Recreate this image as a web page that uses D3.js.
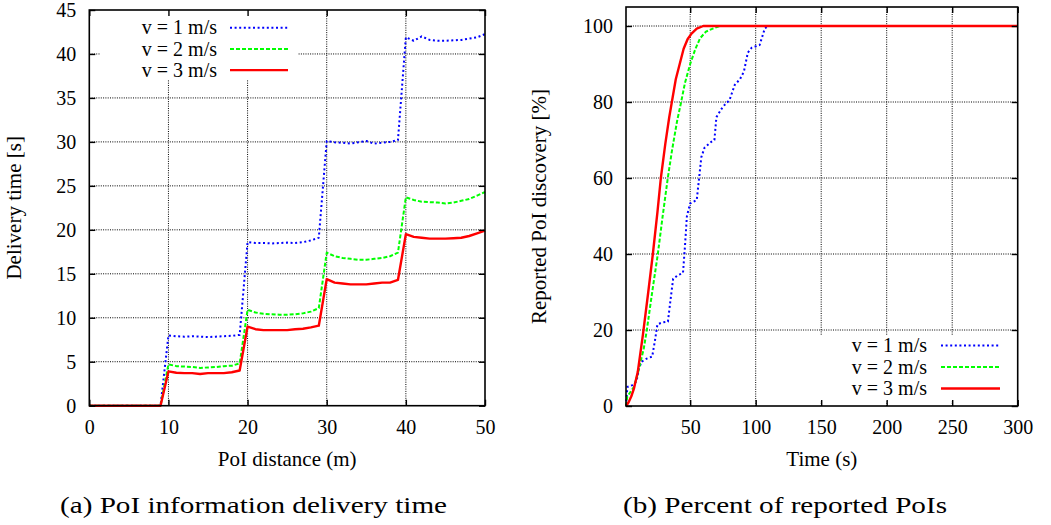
<!DOCTYPE html>
<html><head><meta charset="utf-8">
<script src="https://cdn.jsdelivr.net/npm/d3@7"></script>
<style>
body{margin:0;background:#fff}
svg text{font-family:'Liberation Serif','DejaVu Serif',serif !important;fill:#000}
</style></head><body>
<svg id="c" width="1051" height="525"></svg>
<script>
// ---------- data: chart (a) ----------
const distance = [0,1,2,3,4,5,6,7,8,9,10,11,12,13,14,15,16,17,18,19,20,21,22,23,24,25,26,27,28,29,30,31,32,33,34,35,36,37,38,39,40,41,42,43,44,45,46,47,48,49,50];
const delayV1 = [0,0,0,0,0,0,0,0,0,0,
  8.0,7.9,7.85,7.9,7.85,7.8,7.85,7.9,7.95,8.05,
  18.6,18.5,18.5,18.45,18.5,18.55,18.5,18.6,18.8,19.1,
  30.1,29.95,29.9,29.8,29.95,30.1,29.8,29.9,30.0,30.2,
  41.9,41.5,42.0,41.6,41.5,41.5,41.55,41.6,41.75,41.9,42.25];
const delayV2 = [0,0,0,0,0,0,0,0,0,0,
  4.7,4.5,4.45,4.4,4.3,4.35,4.4,4.5,4.55,4.8,
  10.9,10.6,10.45,10.4,10.35,10.35,10.4,10.5,10.7,11.1,
  17.4,17.0,16.8,16.7,16.6,16.6,16.7,16.8,17.0,17.4,
  23.7,23.4,23.2,23.15,23.1,23.0,23.1,23.3,23.5,23.9,24.3];
const delayV3 = [0,0,0,0,0,0,0,0,0,0,
  3.9,3.75,3.7,3.7,3.6,3.7,3.7,3.7,3.8,4.0,
  9.0,8.7,8.6,8.6,8.6,8.6,8.7,8.75,8.9,9.1,
  14.4,14.0,13.9,13.8,13.8,13.8,13.9,14.0,14.0,14.3,
  19.5,19.2,19.1,19.0,19.0,19.0,19.05,19.1,19.3,19.6,19.9];
const xTicksA = [0,10,20,30,40,50];
const yTicksA = [0,5,10,15,20,25,30,35,40,45];

// ---------- data: chart (b) [time s, percent] ----------
const reportedV1 = [[1,0],[2,5],[6,5.5],[9,6.5],[11,10],[13,11.7],[17,12.5],[21,13],[23,17],[25,21.5],[29,22],[33,22.2],[35,28],[37,33.5],[41,34.5],[44.5,35],[46,42],[47.5,50],[50,53.3],[55,54.2],[56.5,59],[58.5,65.5],[61,68],[66,69.5],[68.5,70],[70,76],[75,78.8],[80,80.5],[84,84.5],[88,86],[91,88],[94,93],[97,94.3],[103,95],[107,99.4],[110,100],[300,100]];
const reportedV2 = [[1,0],[2,2.5],[4,3.5],[7,5],[10,8.5],[12,11.5],[14.5,15],[16.9,20],[21,30],[25.3,40],[29,50],[32.9,60],[36,67],[40,75],[43.1,80],[46,85],[50,90],[54,94],[57.6,96.8],[62,98.5],[67.8,99.4],[73,100],[300,100]];
const reportedV3 = [[1,0],[3,1],[5,2.5],[7,4.5],[10,9],[14,19],[18,30],[21.5,40],[25,51],[27.6,60],[31,69],[34,76],[36,80],[39,86],[42,90],[45,94],[48,96.5],[51,98],[55,99.3],[60,100],[300,100]];
const xTicksB = [50,100,150,200,250,300];
const yTicksB = [0,20,40,60,80,100];

const seriesNames = ["v = 1 m/s","v = 2 m/s","v = 3 m/s"];
const colors = ["#0000ff","#00ff00","#ff0000"];
const dashes = ["2,2.6","4,2",null];
const widths = [2,2,2.4];
const FONT = "'Liberation Serif','DejaVu Serif',serif";

const svg = d3.select("#c");

function panel(cfg){
  const {x, y, xTicks, yTicks, series, legend, xTitle, yTitle, yTitleX, caption, capW} = cfg;
  const [x0,x1] = x.range(), [y0,y1] = y.range();
  const g = svg.append("g");
  // grid
  const grid = g.append("g").attr("stroke","#000").attr("stroke-width",1).attr("stroke-dasharray","1,1.3");
  grid.selectAll("line.v").data(xTicks.filter(t=>t>x.domain()[0] && t<x.domain()[1])).join("line")
    .attr("x1",d=>x(d)).attr("x2",d=>x(d)).attr("y1",y0).attr("y2",y1);
  grid.selectAll("line.h").data(yTicks.filter(t=>t>y.domain()[0] && t<y.domain()[1])).join("line")
    .attr("x1",x0).attr("x2",x1).attr("y1",d=>y(d)).attr("y2",d=>y(d));
  // legend background
  g.append("rect").attr("x",legend.box[0]).attr("y",legend.box[1]).attr("width",legend.box[2]).attr("height",legend.box[3]).attr("fill","#fff");
  // lines
  const line = d3.line().x(d=>x(d[0])).y(d=>y(d[1]));
  series.forEach((s,i)=>{
    g.append("path").attr("d",line(s)).attr("fill","none").attr("stroke",colors[i])
      .attr("stroke-width",widths[i]).attr("stroke-dasharray",dashes[i]).attr("stroke-linejoin","round");
  });
  // border
  g.append("rect").attr("x",x0).attr("y",y1).attr("width",x1-x0).attr("height",y0-y1)
    .attr("fill","none").attr("stroke","#000").attr("stroke-width",1.6);
  // axes with inward ticks
  const ax = g.append("g").attr("transform",`translate(0,${y0})`)
    .call(d3.axisBottom(x).tickValues(xTicks).tickSize(-6).tickPadding(14));
  const axT = g.append("g").attr("transform",`translate(0,${y1})`)
    .call(d3.axisTop(x).tickValues(xTicks).tickSize(-6).tickFormat(""));
  const ay = g.append("g").attr("transform",`translate(${x0},0)`)
    .call(d3.axisLeft(y).tickValues(yTicks).tickSize(-6).tickPadding(13));
  const ayR = g.append("g").attr("transform",`translate(${x1},0)`)
    .call(d3.axisRight(y).tickValues(yTicks).tickSize(-6).tickFormat(""));
  [ax,axT,ay,ayR].forEach(a=>{
    a.attr("font-family",FONT).attr("font-size",20);
    a.select(".domain").remove();
    a.selectAll("line").attr("stroke","#000").attr("stroke-width",1.4);
    a.selectAll("text").attr("font-family",FONT).attr("font-size",20).attr("fill","#000");
  });
  ax.selectAll("text").attr("dy","0.71em").attr("y",14);
  // legend
  const lg = g.append("g").attr("font-family",FONT);
  seriesNames.forEach((n,i)=>{
    const ly = legend.y0 + i*legend.dy;
    lg.append("text").attr("x",legend.tx).attr("y",ly).attr("dy","0.33em").attr("text-anchor","end").attr("font-size",20).text(n);
    lg.append("line").attr("x1",legend.lx0).attr("x2",legend.lx1).attr("y1",ly).attr("y2",ly)
      .attr("stroke",colors[i]).attr("stroke-width",widths[i]).attr("stroke-dasharray",dashes[i]);
  });
  // titles
  g.append("text").attr("font-family",FONT).attr("x",(x0+x1)/2).attr("y",466).attr("text-anchor","middle").attr("font-size",21).text(xTitle);
  g.append("text").attr("font-family",FONT).attr("transform",`translate(${yTitleX},${(y0+y1)/2}) rotate(-90)`).attr("text-anchor","middle").attr("font-size",21).text(yTitle);
  g.append("text").attr("font-family",FONT).attr("x",caption[0]).attr("y",513).attr("font-size",24)
    .attr("textLength",capW).attr("lengthAdjust","spacingAndGlyphs").text(caption[1]);
}

// chart (a)
const xA = d3.scaleLinear().domain([0,50]).range([89.3,485]);
const yA = d3.scaleLinear().domain([0,45]).range([405.7,10]);
panel({
  x:xA, y:yA, xTicks:xTicksA, yTicks:yTicksA,
  series:[delayV1,delayV2,delayV3].map(arr=>arr.map((v,i)=>[distance[i],v])),
  legend:{box:[100,11,198,69], tx:217, lx0:230, lx1:288, y0:27.7, dy:21.2},
  xTitle:"PoI distance (m)", yTitle:"Delivery time [s]", yTitleX:21,
  caption:[60,"(a) PoI information delivery time"], capW:387
});

// chart (b)
const xB = d3.scaleLinear().domain([1,300]).range([626,1017.7]);
const yB = d3.scaleLinear().domain([0,105]).range([406,7]);
panel({
  x:xB, y:yB, xTicks:xTicksB, yTicks:yTicksB,
  series:[reportedV1,reportedV2,reportedV3],
  legend:{box:[812,336,198,65], tx:927, lx0:941, lx1:1000, y0:345.5, dy:21.5},
  xTitle:"Time (s)", yTitle:"Reported PoI discovery [%]", yTitleX:546,
  caption:[623,"(b) Percent of reported PoIs"], capW:324
});
</script>
</body></html>
